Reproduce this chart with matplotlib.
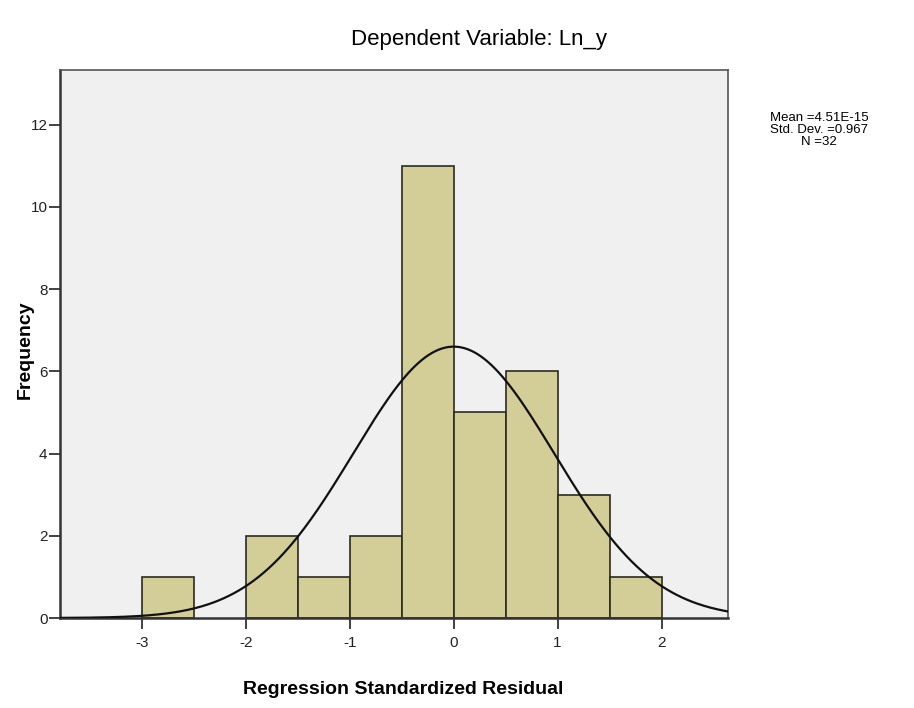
import numpy as np
import matplotlib.pyplot as plt

# histogram bins (bin edges) and counts
bin_edges = [-3.0, -2.5, -2.0, -1.5, -1.0, -0.5, 0.0, 0.5, 1.0, 1.5, 2.0]
counts = [1, 0, 2, 1, 2, 11, 5, 6, 3, 1]

mean = 4.51e-15
std_dev = 0.967
n = 32

x_ticks = [-3, -2, -1, 0, 1, 2]
y_ticks = [0, 2, 4, 6, 8, 10, 12]

plt.rcParams['font.family'] = ['Liberation Sans', 'DejaVu Sans']

fig = plt.figure(figsize=(9.14, 7.08), dpi=100)
ax = fig.add_axes([60 / 914, 90 / 708, 668 / 914, 548 / 708])
ax.set_facecolor('#f0f0f0')

widths = np.diff(bin_edges)
lefts = np.array(bin_edges[:-1])
heights = np.array(counts)
mask = heights > 0
ax.bar(lefts[mask], heights[mask], width=widths[mask], align='edge',
       color='#d3ce97', edgecolor='#2b2b22', linewidth=1.2, zorder=2)

# normal curve scaled to the counts
xs = np.linspace(-3.8, 2.65, 400)
bw = widths[0]
ys = n * bw / (std_dev * np.sqrt(2 * np.pi)) * np.exp(-0.5 * ((xs - mean) / std_dev) ** 2)
ax.plot(xs, ys, color='#111111', linewidth=1.6, zorder=3)

ax.set_xlim(-3.79, 2.64)
ax.set_ylim(0, 13.33)
ax.set_xticks(x_ticks)
ax.set_xticklabels([str(t) for t in x_ticks])
ax.set_yticks(y_ticks)
ax.tick_params(axis='both', direction='out', length=8, width=1.2,
               labelsize=11, colors='#222222')
ax.tick_params(axis='x', pad=5)
ax.tick_params(axis='y', pad=1)

for side in ['left', 'bottom']:
    ax.spines[side].set_linewidth(1.8)
    ax.spines[side].set_color('#333333')
for side in ['top', 'right']:
    ax.spines[side].set_linewidth(1.2)
    ax.spines[side].set_color('#555555')

fig.text(479 / 914, 1 - 40 / 708, 'Dependent Variable: Ln_y',
         ha='center', va='center', fontsize=16)
fig.text(403 / 914, 1 - 690 / 708, 'Regression Standardized Residual',
         ha='center', va='center', fontsize=14, fontweight='bold')
fig.text(25 / 914, 1 - 350 / 708, 'Frequency', rotation=90,
         ha='center', va='center', fontsize=14, fontweight='bold')

stats = 'Mean =%.2fE-15\nStd. Dev. =%.3f\nN =%d' % (mean * 1e15, std_dev, n)
fig.text(819 / 914, 1 - 130 / 708, stats,
         ha='center', va='center', fontsize=9.5, linespacing=1.0)

fig.savefig('out.png', dpi=100)
